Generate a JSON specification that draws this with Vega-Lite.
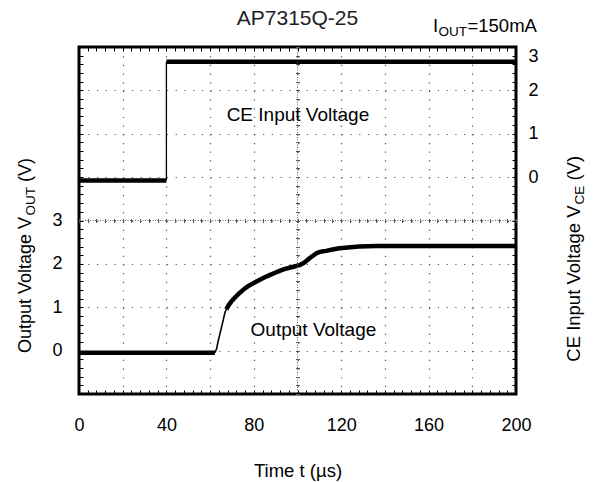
{
  "$schema": "https://vega.github.io/schema/vega-lite/v6.json",
  "width": 437,
  "height": 347,
  "autosize": "none",
  "padding": {"left": 79, "top": 47, "right": 81, "bottom": 88},
  "background": "white",
  "title": {"text": "AP7315Q-25", "fontSize": 21, "fontWeight": "normal", "color": "#1e1e26", "font": "Liberation Sans", "offset": -12},
  "config": {
    "font": "Liberation Sans",
    "view": {"stroke": "#000", "strokeWidth": 3},
    "axis": {"labelFont": "Liberation Sans", "labelColor": "#000", "labelFontSize": 18, "titleFont": "Liberation Sans", "titleColor": "#000", "titleFontWeight": "normal", "domain": false, "tickColor": "#000", "tickWidth": 1}
  },
  "datasets": {
    "ce": [
      {"t": 0, "v": -0.078, "state": "low"},
      {"t": 40, "v": -0.078, "state": "low"},
      {"t": 40, "v": 2.659, "state": "high"},
      {"t": 200, "v": 2.659, "state": "high"}
    ],
    "ceEdge": [{"t": 40, "lo": -0.078, "hi": 2.659}],
    "vout": [
      {"t": 0, "v": -0.05, "phase": "flat"},
      {"t": 62.2, "v": -0.05, "phase": "flat"},
      {"t": 62.2, "v": -0.05, "phase": "rise"},
      {"t": 63.0, "v": 0.05, "phase": "rise"},
      {"t": 63.6, "v": 0.2, "phase": "rise"},
      {"t": 64.8, "v": 0.45, "phase": "rise"},
      {"t": 65.9, "v": 0.68, "phase": "rise"},
      {"t": 66.8, "v": 0.88, "phase": "rise"},
      {"t": 67.4, "v": 0.95, "phase": "rise"},
      {"t": 67.4, "v": 0.95, "phase": "settle"},
      {"t": 68.5, "v": 1.05, "phase": "settle"},
      {"t": 69.7, "v": 1.13, "phase": "settle"},
      {"t": 71.5, "v": 1.23, "phase": "settle"},
      {"t": 73.5, "v": 1.33, "phase": "settle"},
      {"t": 75.8, "v": 1.43, "phase": "settle"},
      {"t": 78.1, "v": 1.51, "phase": "settle"},
      {"t": 80.4, "v": 1.57, "phase": "settle"},
      {"t": 82.6, "v": 1.63, "phase": "settle"},
      {"t": 85.0, "v": 1.69, "phase": "settle"},
      {"t": 87.2, "v": 1.74, "phase": "settle"},
      {"t": 89.5, "v": 1.79, "phase": "settle"},
      {"t": 91.8, "v": 1.84, "phase": "settle"},
      {"t": 94.0, "v": 1.88, "phase": "settle"},
      {"t": 96.3, "v": 1.91, "phase": "settle"},
      {"t": 98.6, "v": 1.94, "phase": "settle"},
      {"t": 100.9, "v": 1.97, "phase": "settle"},
      {"t": 103.2, "v": 2.03, "phase": "settle"},
      {"t": 105.5, "v": 2.13, "phase": "settle"},
      {"t": 108.5, "v": 2.24, "phase": "settle"},
      {"t": 110.5, "v": 2.28, "phase": "settle"},
      {"t": 113.1, "v": 2.30, "phase": "settle"},
      {"t": 116.0, "v": 2.33, "phase": "settle"},
      {"t": 119.2, "v": 2.36, "phase": "settle"},
      {"t": 123.0, "v": 2.38, "phase": "settle"},
      {"t": 128.3, "v": 2.40, "phase": "settle"},
      {"t": 136.0, "v": 2.41, "phase": "settle"},
      {"t": 150.0, "v": 2.41, "phase": "settle"},
      {"t": 170.0, "v": 2.41, "phase": "settle"},
      {"t": 200.0, "v": 2.41, "phase": "settle"}
    ],
    "notes": [
      {"label": "CE Input Voltage", "t": 100.2, "v": 5.43},
      {"label": "Output Voltage", "t": 107.3, "v": 0.475}
    ],
    "topMain": [
      {"label": "I", "t": 162.0, "v": 7.353},
      {"label": "=150mA", "t": 177.8, "v": 7.353}
    ],
    "topSub": [
      {"label": "OUT", "t": 164.5, "v": 7.265}
    ],
    "sideMain": [
      {"label": "Output Voltage V", "t": -21.97, "v": -0.055},
      {"label": "(V)", "t": -21.97, "v": 3.89},
      {"label": "CE Input Voltage V", "t": 229.5, "v": -0.255},
      {"label": "(V)", "t": 229.5, "v": 3.92}
    ],
    "sideSub": [
      {"label": "OUT", "t": -20.14, "v": 3.118},
      {"label": "CE", "t": 231.1, "v": 3.371}
    ]
  },
  "layer": [
    {
      "data": {"name": "vout"},
      "transform": [{"filter": "datum.phase !== 'rise'"}],
      "mark": {"type": "line", "color": "#000", "strokeWidth": 4.5, "strokeJoin": "round"},
      "encoding": {
        "x": {"field": "t", "type": "quantitative", "scale": {"domain": [0, 200], "nice": false},
          "axis": {"orient": "bottom", "values": [0, 20, 40, 60, 80, 100, 120, 140, 160, 180, 200], "grid": true, "gridColor": "#555", "gridWidth": 1.2, "gridDash": [1.2, 7.475],
            "gridOpacity": {"condition": {"test": "datum.value === 0 || datum.value === 200", "value": 0}, "value": 1},
            "ticks": false, "labelFlush": false, "labelExpr": "datum.value % 40 === 0 ? datum.label : ''", "labelPadding": 22, "labelFontSize": 18,
            "title": "Time t (µs)", "titleFontSize": 18.5, "titlePadding": 27}},
        "y": {"field": "v", "type": "quantitative", "scale": {"domain": [-1, 7], "nice": false},
          "axis": {"orient": "left", "values": [-1, 0, 1, 2, 3, 4, 5, 6, 7], "grid": true, "gridColor": "#555", "gridWidth": 1.2, "gridDash": [1.2, 7.54],
            "gridOpacity": {"condition": {"test": "datum.value === -1 || datum.value === 7", "value": 0}, "value": 1},
            "ticks": false, "labelExpr": "datum.value >= 0 && datum.value <= 3 ? datum.label : ''", "labelPadding": 17, "title": null}},
        "detail": {"field": "phase"}
      }
    },
    {
      "data": {"name": "vout"},
      "transform": [{"filter": "datum.phase === 'rise'"}],
      "mark": {"type": "line", "color": "#000", "strokeWidth": 1.6},
      "encoding": {
        "x": {"field": "t", "type": "quantitative", "scale": {"domain": [0, 200], "nice": false},
          "axis": {"orient": "bottom", "values": [0,4,8,12,16,20,24,28,32,36,40,44,48,52,56,60,64,68,72,76,80,84,88,92,96,100,104,108,112,116,120,124,128,132,136,140,144,148,152,156,160,164,168,172,176,180,184,188,192,196,200], "ticks": true, "tickSize": -4, "labels": false, "grid": false, "title": null}},
        "y": {"field": "v", "type": "quantitative", "scale": {"domain": [-1, 7], "nice": false},
          "axis": {"orient": "left", "values": [-1,-0.8,-0.6,-0.4,-0.2,0,0.2,0.4,0.6,0.8,1,1.2,1.4,1.6,1.8,2,2.2,2.4,2.6,2.8,3,3.2,3.4,3.6,3.8,4,4.2,4.4,4.6,4.8,5,5.2,5.4,5.6,5.8,6,6.2,6.4,6.6,6.8,7], "ticks": true, "tickSize": -4, "labels": false, "grid": false, "title": null}}
      }
    },
    {
      "data": {"name": "ce"},
      "mark": {"type": "line", "color": "#000", "strokeWidth": 4.5},
      "encoding": {
        "x": {"field": "t", "type": "quantitative", "scale": {"domain": [0, 200], "nice": false},
          "axis": {"orient": "top", "values": [0,4,8,12,16,20,24,28,32,36,40,44,48,52,56,60,64,68,72,76,80,84,88,92,96,100,104,108,112,116,120,124,128,132,136,140,144,148,152,156,160,164,168,172,176,180,184,188,192,196,200], "ticks": true, "tickSize": -4, "labels": false, "grid": false, "title": null}},
        "y": {"field": "v", "type": "quantitative", "scale": {"domain": [-5, 3], "nice": false},
          "axis": {"orient": "right", "values": [0, 1, 2, 3], "ticks": false, "grid": false, "labelFlush": true, "labelPadding": 12, "labelFontSize": 18, "title": null}},
        "detail": {"field": "state"}
      }
    },
    {
      "data": {"name": "ceEdge"},
      "mark": {"type": "rule", "color": "#000", "strokeWidth": 1.3},
      "encoding": {
        "x": {"field": "t", "type": "quantitative", "scale": {"domain": [0, 200], "nice": false}, "axis": null},
        "y": {"field": "lo", "type": "quantitative", "scale": {"domain": [-5, 3], "nice": false},
          "axis": {"orient": "right", "values": [-5,-4.8,-4.6,-4.4,-4.2,-4,-3.8,-3.6,-3.4,-3.2,-3,-2.8,-2.6,-2.4,-2.2,-2,-1.8,-1.6,-1.4,-1.2,-1,-0.8,-0.6,-0.4,-0.2,0,0.2,0.4,0.6,0.8,1,1.2,1.4,1.6,1.8,2,2.2,2.4,2.6,2.8,3], "ticks": true, "tickSize": -4, "labels": false, "grid": false, "title": null}},
        "y2": {"field": "hi"}
      }
    },
    {
      "data": {"values": [{}]},
      "mark": {"type": "rule", "color": "#666", "strokeWidth": 1, "strokeDash": [1, 1.5]},
      "encoding": {
        "x": {"datum": 100, "type": "quantitative", "scale": {"domain": [0, 200], "nice": false},
          "axis": {"orient": "bottom", "offset": -175.5, "values": [0,4,8,12,16,20,24,28,32,36,40,44,48,52,56,60,64,68,72,76,80,84,88,92,96,100,104,108,112,116,120,124,128,132,136,140,144,148,152,156,160,164,168,172,176,180,184,188,192,196,200], "ticks": true, "tickSize": 4, "tickColor": "#555", "labels": false, "grid": false, "title": null}}
      }
    },
    {
      "data": {"values": [{}]},
      "mark": {"type": "rule", "color": "#666", "strokeWidth": 1, "strokeDash": [1, 1.5]},
      "encoding": {
        "y": {"datum": 3, "type": "quantitative", "scale": {"domain": [-1, 7], "nice": false},
          "axis": {"orient": "left", "offset": -220.5, "values": [-1,-0.8,-0.6,-0.4,-0.2,0,0.2,0.4,0.6,0.8,1,1.2,1.4,1.6,1.8,2,2.2,2.4,2.6,2.8,3,3.2,3.4,3.6,3.8,4,4.2,4.4,4.6,4.8,5,5.2,5.4,5.6,5.8,6,6.2,6.4,6.6,6.8,7], "ticks": true, "tickSize": 4, "tickColor": "#555", "labels": false, "grid": false, "title": null}}
      }
    },
    {
      "data": {"name": "notes"},
      "mark": {"type": "text", "font": "Liberation Sans", "fontSize": 19, "color": "#000", "align": "center", "baseline": "middle"},
      "encoding": {
        "x": {"field": "t", "type": "quantitative", "scale": {"domain": [0, 200], "nice": false}, "axis": null},
        "y": {"field": "v", "type": "quantitative", "scale": {"domain": [-1, 7], "nice": false}, "axis": null},
        "text": {"field": "label"}
      }
    },
    {
      "data": {"name": "topMain"},
      "mark": {"type": "text", "font": "Liberation Sans", "fontSize": 18.5, "color": "#000", "align": "left", "baseline": "alphabetic"},
      "encoding": {
        "x": {"field": "t", "type": "quantitative", "scale": {"domain": [0, 200], "nice": false}, "axis": null},
        "y": {"field": "v", "type": "quantitative", "scale": {"domain": [-1, 7], "nice": false}, "axis": null},
        "text": {"field": "label"}
      }
    },
    {
      "data": {"name": "topSub"},
      "mark": {"type": "text", "font": "Liberation Sans", "fontSize": 13.5, "color": "#000", "align": "left", "baseline": "alphabetic"},
      "encoding": {
        "x": {"field": "t", "type": "quantitative", "scale": {"domain": [0, 200], "nice": false}, "axis": null},
        "y": {"field": "v", "type": "quantitative", "scale": {"domain": [-1, 7], "nice": false}, "axis": null},
        "text": {"field": "label"}
      }
    },
    {
      "data": {"name": "sideMain"},
      "transform": [{"filter": "datum.t < 0"}],
      "mark": {"type": "text", "font": "Liberation Sans", "fontSize": 18, "color": "#000", "align": "left", "baseline": "alphabetic", "angle": 270},
      "encoding": {
        "x": {"field": "t", "type": "quantitative", "scale": {"domain": [0, 200], "nice": false}, "axis": null},
        "y": {"field": "v", "type": "quantitative", "scale": {"domain": [-1, 7], "nice": false}, "axis": null},
        "text": {"field": "label"}
      }
    },
    {
      "data": {"name": "sideMain"},
      "transform": [{"filter": "datum.t > 200"}],
      "mark": {"type": "text", "font": "Liberation Sans", "fontSize": 18.5, "color": "#000", "align": "left", "baseline": "alphabetic", "angle": 270},
      "encoding": {
        "x": {"field": "t", "type": "quantitative", "scale": {"domain": [0, 200], "nice": false}, "axis": null},
        "y": {"field": "v", "type": "quantitative", "scale": {"domain": [-1, 7], "nice": false}, "axis": null},
        "text": {"field": "label"}
      }
    },
    {
      "data": {"name": "sideSub"},
      "mark": {"type": "text", "font": "Liberation Sans", "fontSize": 13.5, "color": "#000", "align": "left", "baseline": "alphabetic", "angle": 270},
      "encoding": {
        "x": {"field": "t", "type": "quantitative", "scale": {"domain": [0, 200], "nice": false}, "axis": null},
        "y": {"field": "v", "type": "quantitative", "scale": {"domain": [-1, 7], "nice": false}, "axis": null},
        "text": {"field": "label"}
      }
    }
  ],
  "resolve": {"scale": {"x": "independent", "y": "independent"}}
}
